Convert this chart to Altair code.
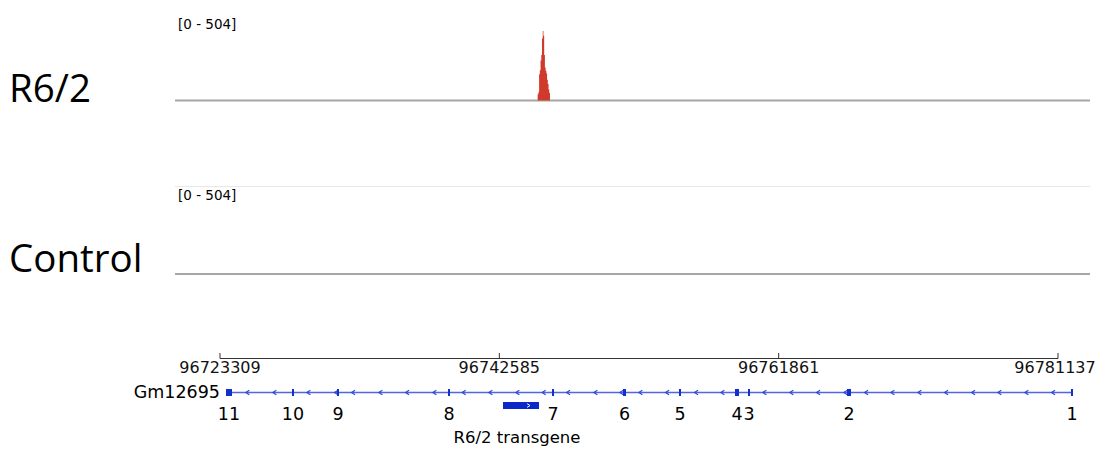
import altair as alt
import pandas as pd

# ---------------- data ----------------
view_start = 96720204
view_end = 96783345

track_names = ["R6/2", "Control"]
data_range_max = 504

# R6/2 coverage (bin start positions, values); last point closes the step area
signal_pos = [96745230, 96745280, 96745330, 96745380, 96745430, 96745480,
              96745530, 96745580, 96745630, 96745680, 96745730, 96745780,
              96745830, 96745880, 96745930, 96745980, 96746030, 96746080]
signal_val = [45, 60, 190, 220, 290, 330, 450, 504, 470, 330, 240, 215,
              195, 150, 120, 80, 55, 0]

ruler_ticks = [96723309, 96742585, 96761861, 96781137]

gene_name = "Gm12695"
gene_start = 96723723
gene_end = 96782172
exon_numbers = ["11", "10", "9", "8", "7", "6", "5", "4", "3", "2", "1"]
exon_starts = [96723723, 96728278, 96731383, 96739043, 96746219, 96751119,
               96754983, 96758848, 96759745, 96766576, 96782034]
exon_ends = [96724137, 96728416, 96731521, 96739181, 96746357, 96751326,
             96755121, 96759124, 96759883, 96766852, 96782172]
strand_marks = [96725172, 96727035, 96729382, 96731293, 96732466, 96734350,
                96736193, 96738077, 96740098, 96741941, 96743804, 96745619,
                96747303, 96749187, 96750981, 96752292, 96754135, 96756136,
                96757951, 96760849, 96762712, 96764554, 96766438, 96767867,
                96769682, 96771545, 96773387, 96775250, 96777065, 96778929,
                96780771]

transgene_name = "R6/2 transgene"
transgene_start = 96742838
transgene_end = 96745322
transgene_marks = [96744633]

# ---------------- chart ----------------
XS = alt.Scale(domain=[view_start, view_end], nice=False, zero=False)
W, H = 915, 442


def xq(field):
    return alt.X(f"{field}:Q", scale=XS, axis=None)


def text_layer(text, x, y, size, font, align="left", color="#000000"):
    return alt.Chart(pd.DataFrame({"t": [text]})).mark_text(
        align=align, baseline="alphabetic", font=font, fontSize=size, color=color
    ).encode(x=alt.value(x), y=alt.value(y), text="t:N")


one = pd.DataFrame({"a": [0]})

# track baselines and separator
base1 = alt.Chart(one).mark_rule(color="#a6a6a6", strokeWidth=2).encode(
    x=alt.value(0), x2=alt.value(W), y=alt.value(92.5))
base2 = alt.Chart(one).mark_rule(color="#a6a6a6", strokeWidth=2).encode(
    x=alt.value(0), x2=alt.value(W), y=alt.value(266))
sep = alt.Chart(one).mark_rule(color="#e8e8e8", strokeWidth=1).encode(
    x=alt.value(0), x2=alt.value(W), y=alt.value(178.5))

range_txt = f"[0 - {data_range_max}]"
range1 = text_layer(range_txt, 3, 21, 13.5, "DejaVu Sans")
range2 = text_layer(range_txt, 3, 192, 13.5, "DejaVu Sans")

name1 = text_layer(track_names[0], -166, 94, 38.5, "Open Sans")
name2 = text_layer(track_names[1], -166, 264, 38.5, "Open Sans")

sig_df = pd.DataFrame({"pos": signal_pos, "value": signal_val})
signal = alt.Chart(sig_df).mark_area(interpolate="step-after", color="#d03a2d").encode(
    x=xq("pos"),
    y=alt.Y("value:Q", scale=alt.Scale(domain=[0, data_range_max], range=[92.5, 23]), axis=None),
)

# ruler
ruler_df = pd.DataFrame({"s": [ruler_ticks[0]], "e": [ruler_ticks[-1]]})
ruler_line = alt.Chart(ruler_df).mark_rule(color="#333333", strokeWidth=1).encode(
    x=xq("s"), x2="e:Q", y=alt.value(350.5))
tick_df = pd.DataFrame({"pos": ruler_ticks, "lab": [str(t) for t in ruler_ticks]})
ruler_tick = alt.Chart(tick_df).mark_rule(color="#333333", strokeWidth=1).encode(
    x=xq("pos"), y=alt.value(345), y2=alt.value(350.5))
ruler_lab = alt.Chart(tick_df.iloc[:-1]).mark_text(
    align="center", baseline="alphabetic", font="DejaVu Sans", fontSize=16, color="#111111"
).encode(x=xq("pos"), y=alt.value(365), text="lab:N")
# last label nudged so it stays inside the page edge
ruler_lab_last = alt.Chart(tick_df.iloc[-1:]).mark_text(
    align="center", baseline="alphabetic", font="DejaVu Sans", fontSize=16, dx=-3, color="#111111"
).encode(x=xq("pos"), y=alt.value(365), text="lab:N")

# gene
gene_df = pd.DataFrame({"s": [gene_start], "e": [gene_end], "name": [gene_name]})
gene_line = alt.Chart(gene_df).mark_rule(color="#5266e4", strokeWidth=1.3).encode(
    x=xq("s"), x2="e:Q", y=alt.value(384.5))
gene_lab = alt.Chart(gene_df).mark_text(
    align="right", baseline="alphabetic", font="DejaVu Sans", fontSize=17.5, dx=-6, color="#000000"
).encode(x=xq("s"), y=alt.value(389.5), text="name:N")

chev_df = pd.DataFrame({"pos": strand_marks})
chevrons = alt.Chart(chev_df).mark_point(
    shape="M 1 -1 L -0.5 0 L 1 1", filled=False, stroke="#2f47d6", strokeWidth=1.2, size=22, opacity=1
).encode(x=xq("pos"), y=alt.value(384.5))

exon_df = pd.DataFrame({"s": exon_starts, "e": exon_ends, "num": exon_numbers})
exon_df["mid"] = (exon_df["s"] + exon_df["e"]) / 2
exons = alt.Chart(exon_df).mark_rect(color="#1230cc").encode(
    x=xq("s"), x2="e:Q", y=alt.value(381), y2=alt.value(388))
exon_lab = alt.Chart(exon_df).mark_text(
    align="center", baseline="alphabetic", font="DejaVu Sans", fontSize=17.5, color="#000000"
).encode(x=xq("mid"), y=alt.value(411.5), text="num:N")

# transgene
tg_df = pd.DataFrame({"s": [transgene_start], "e": [transgene_end], "name": [transgene_name]})
tg_df["mid"] = (tg_df["s"] + tg_df["e"]) / 2
tg_box = alt.Chart(tg_df).mark_rect(color="#0b28c8").encode(
    x=xq("s"), x2="e:Q", y=alt.value(394), y2=alt.value(401))
tg_arrow = alt.Chart(pd.DataFrame({"pos": transgene_marks})).mark_point(
    shape="M -1 -1 L 0.5 0 L -1 1", filled=False, stroke="#ffffff", strokeWidth=1, size=14, opacity=1
).encode(x=xq("pos"), y=alt.value(397.5))
tg_lab = alt.Chart(tg_df).mark_text(
    align="center", baseline="alphabetic", font="DejaVu Sans", fontSize=16.5, dx=-4, color="#000000"
).encode(x=xq("mid"), y=alt.value(435), text="name:N")

chart = alt.layer(
    sep, base1, base2, signal, range1, range2, name1, name2,
    ruler_line, ruler_tick, ruler_lab, ruler_lab_last,
    gene_line, chevrons, exons, exon_lab, gene_lab,
    tg_box, tg_arrow, tg_lab,
).properties(
    width=W, height=H,
    autosize=alt.AutoSizeParams(type="none"),
    padding={"left": 167, "top": 0, "right": 5, "bottom": 0},
    background="white",
).configure_view(stroke=None)

chart.save("out.html", embed_options={"renderer": "svg", "actions": False})
